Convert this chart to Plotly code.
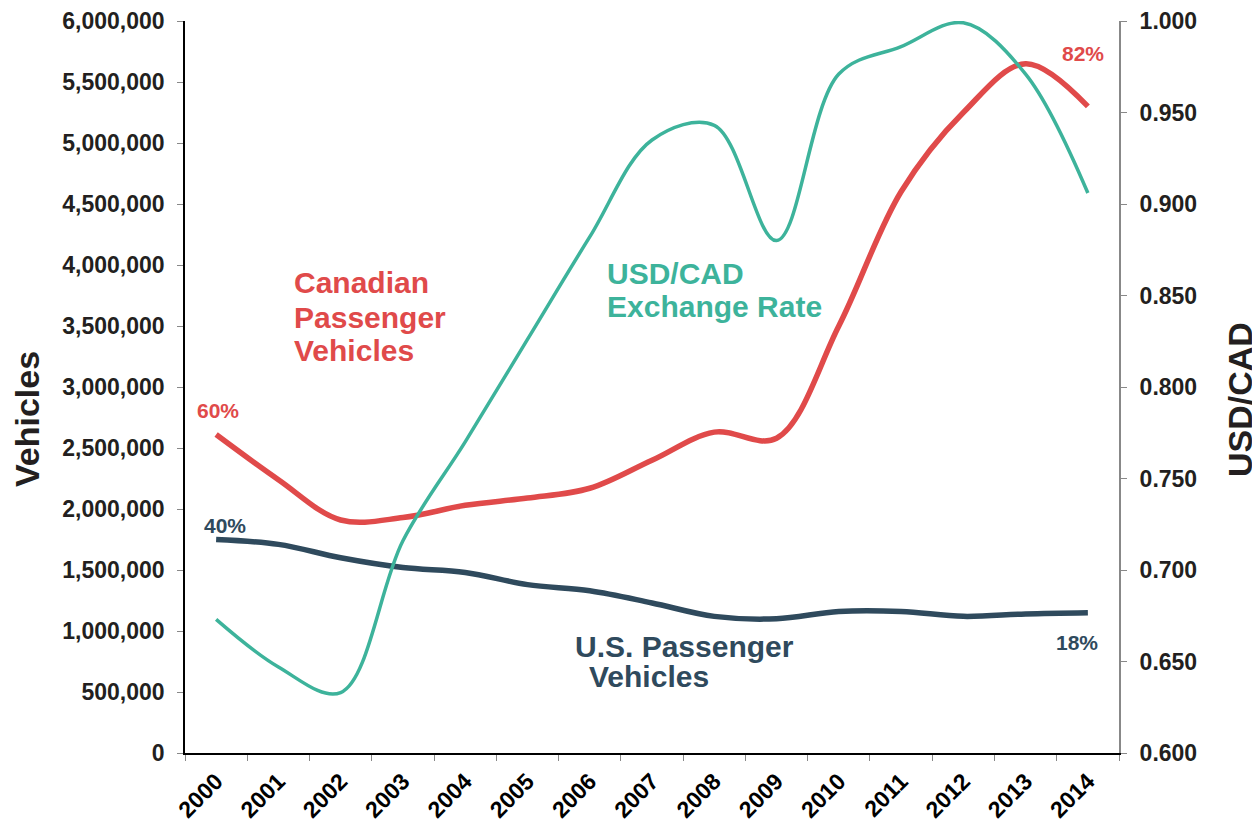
import plotly.graph_objects as go

years = [str(y) for y in range(2000, 2015)]
canadian = [2610000, 2240000, 1910000, 1930000, 2030000, 2090000, 2170000, 2400000,
            2630000, 2580000, 3500000, 4600000, 5250000, 5650000, 5300000]
us = [1750000, 1710000, 1600000, 1520000, 1480000, 1380000, 1330000, 1230000,
      1120000, 1100000, 1160000, 1160000, 1120000, 1140000, 1150000]
usdcad = [0.673, 0.647, 0.633, 0.716, 0.770, 0.826, 0.882, 0.935,
          0.943, 0.880, 0.971, 0.986, 0.999, 0.971, 0.906]

RED = "#E04A4A"
TEAL = "#3DB39B"
DARK = "#2F4A5D"
FONT = "Liberation Sans, Arial, sans-serif"

fig = go.Figure()
fig.add_trace(go.Scatter(x=years, y=canadian, mode="lines", line=dict(color=RED, width=5.5, shape="spline", smoothing=1.0), yaxis="y"))
fig.add_trace(go.Scatter(x=years, y=us, mode="lines", line=dict(color=DARK, width=5.5, shape="spline", smoothing=1.0), yaxis="y"))
fig.add_trace(go.Scatter(x=years, y=usdcad, mode="lines", line=dict(color=TEAL, width=3.5, shape="spline", smoothing=1.0), yaxis="y2"))

OFF = 8  # page body margin
FW, FH = 1260, 823
# plot area in page coordinates
L, R, T, B = 185, 1119, 21, 753
W, H = R - L, B - T

def px(x):
    return (x - L) / W

def py(y):
    return (B - y) / H

anns = []
def txt(text, x, y, color, size, xanchor="left", angle=0):
    anns.append(dict(text="<b>%s</b>" % text, x=px(x), y=py(y), xref="paper", yref="paper",
                     xanchor=xanchor, yanchor="middle", showarrow=False, textangle=angle,
                     font=dict(family=FONT, size=size, color=color)))

txt("Canadian", 292, 283, RED, 30)
txt("Passenger", 292, 318, RED, 30)
txt("Vehicles", 292, 351, RED, 30)
txt("USD/CAD", 605, 273, TEAL, 30)
txt("Exchange Rate", 605, 306, TEAL, 30)
txt("U.S. Passenger", 573, 646, DARK, 30)
txt("Vehicles", 587, 676, DARK, 30)
txt("60%", 218, 410, RED, 21, "center")
txt("40%", 225, 525, DARK, 21, "center")
txt("82%", 1083, 54, RED, 21, "center")
txt("18%", 1077, 642, DARK, 21, "center")
txt("Vehicles", 27, 419, "#231F20", 34, "center", -90)
txt("USD/CAD", 1240, 400, "#231F20", 34, "center", -90)

fig.update_layout(
    width=FW, height=FH,
    margin=dict(l=L - OFF, r=FW - (R - OFF), t=T - OFF, b=FH - (B - OFF), autoexpand=False),
    paper_bgcolor="white", plot_bgcolor="white",
    showlegend=False,
    font=dict(family=FONT, color="#231F20"),
    annotations=anns,
    xaxis=dict(type="category", range=[-0.5, 14.5], tickson="boundaries", ticks="outside",
               ticklen=6, tickcolor="#888888", showline=True, linecolor="black", linewidth=1.5,
               showgrid=False, tickangle=-45, ticklabelstandoff=4,
               tickfont=dict(family=FONT, size=23, color="black", weight="bold")),
    yaxis=dict(range=[0, 6000000], dtick=500000, tickformat=",", ticks="outside", ticklen=6,
               tickcolor="#888888", showline=True, linecolor="black", linewidth=1.5,
               showgrid=False, zeroline=False, ticklabelstandoff=8,
               tickfont=dict(family=FONT, size=23, color="#231F20", weight="bold")),
    yaxis2=dict(range=[0.6, 1.0], dtick=0.05, tickformat=".3f", overlaying="y", side="right",
                ticks="outside", ticklen=6, tickcolor="#888888", showline=True,
                linecolor="#888888", linewidth=2, showgrid=False, zeroline=False,
                ticklabelstandoff=8,
                tickfont=dict(family=FONT, size=23, color="#231F20", weight="bold")),
)

fig.write_html("out.html")
